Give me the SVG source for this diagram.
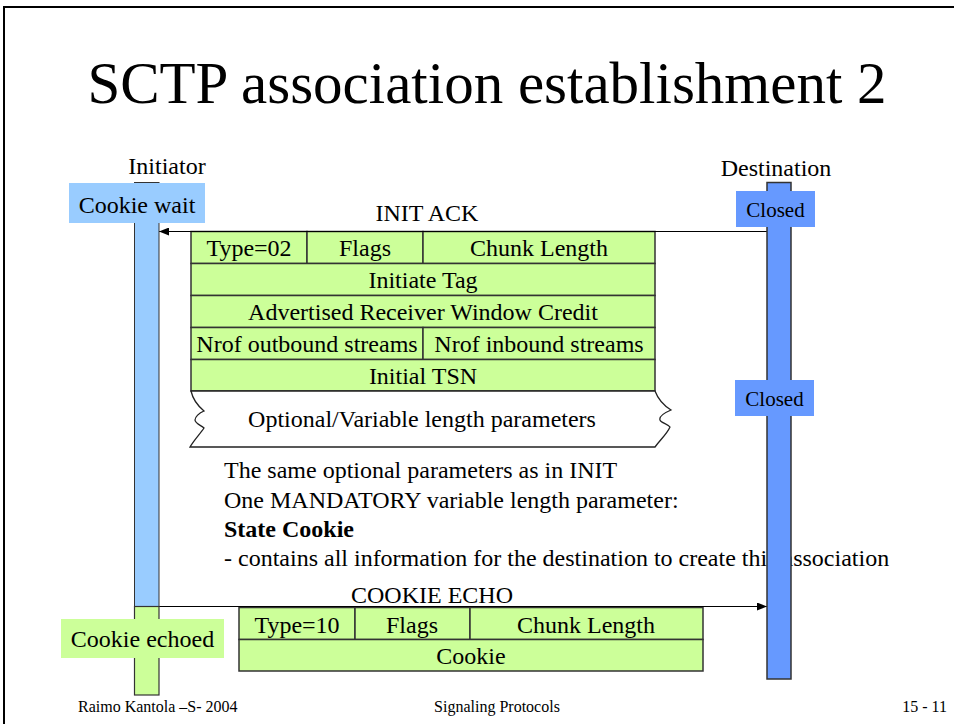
<svg xmlns="http://www.w3.org/2000/svg" width="954" height="724" viewBox="0 0 954 724">
<defs>
<style>
text{font-family:"Liberation Serif","Times New Roman",serif;fill:#000}
.t24{font-size:24px}
.c{text-anchor:middle}
.cell{fill:#CCFF99;stroke:#333;stroke-width:1.5}
.lbl{font-size:21px}
.foot{font-size:16px}
.conn{stroke:#000;stroke-width:1.2;fill:none}
</style>
<marker id="ah" markerWidth="10" markerHeight="8" refX="10" refY="4" orient="auto" markerUnits="userSpaceOnUse">
<path d="M0,0 L10,4 L0,8 Z" fill="#000"/>
</marker>
</defs>
<rect width="954" height="724" fill="#fff"/>
<rect x="4" y="7" width="970" height="740" fill="none" stroke="#000" stroke-width="2"/>
<text x="487" y="103" class="c" style="font-size:59px">SCTP association establishment 2</text>

<g id="initiator-label"><text x="167" y="174" class="t24 c">Initiator</text></g>
<g id="destination-label"><text x="776" y="176" class="t24 c">Destination</text></g>

<g id="init-ack">
<text x="427" y="221" class="t24 c">INIT ACK</text>
<rect x="191" y="231.5" width="116" height="32" class="cell"/>
<rect x="307" y="231.5" width="116" height="32" class="cell"/>
<rect x="423" y="231.5" width="232" height="32" class="cell"/>
<rect x="191" y="263.5" width="464" height="32" class="cell"/>
<rect x="191" y="295.5" width="464" height="32" class="cell"/>
<rect x="191" y="327.5" width="232" height="32" class="cell"/>
<rect x="423" y="327.5" width="232" height="32" class="cell"/>
<rect x="191" y="359.5" width="464" height="31.5" class="cell"/>
<text x="249" y="256" class="t24 c">Type=02</text>
<text x="365" y="256" class="t24 c">Flags</text>
<text x="539" y="256" class="t24 c">Chunk Length</text>
<text x="423" y="288" class="t24 c">Initiate Tag</text>
<text x="423" y="320" class="t24 c">Advertised Receiver Window Credit</text>
<text x="307" y="352" class="t24 c">Nrof outbound streams</text>
<text x="539" y="352" class="t24 c">Nrof inbound streams</text>
<text x="423" y="384" class="t24 c">Initial TSN</text>
<path d="M191,391 H655 C658,399 663,405 671,410 C664,413 659,417 660,420 C661,423 668,424 670,427 C667,434 660,440 655,447 H190 C194,440 200,434 204,428 C200,425 195,423 195,420 C195,417 199,413 204,411 C198,406 193,400 191,391 Z" fill="#fff" stroke="#222" stroke-width="1.3"/>
<text x="422" y="427" class="t24 c">Optional/Variable length parameters</text>
</g>

<g id="notes">
<text x="224" y="478" class="t24">The same optional parameters as in INIT</text>
<text x="224" y="508" class="t24">One MANDATORY variable length parameter:</text>
<text x="224" y="537" class="t24" font-weight="bold">State Cookie</text>
<text x="224" y="566" class="t24">- contains all information for the destination to create this association</text>
</g>

<g id="cookie-echo">
<text x="432" y="603" class="t24 c">COOKIE ECHO</text>
<rect x="239" y="607.5" width="116" height="32" class="cell"/>
<rect x="355" y="607.5" width="115" height="32" class="cell"/>
<rect x="470" y="607.5" width="233" height="32" class="cell"/>
<rect x="239" y="639.5" width="464" height="31.5" class="cell"/>
<text x="297" y="633" class="t24 c">Type=10</text>
<text x="412" y="633" class="t24 c">Flags</text>
<text x="586" y="633" class="t24 c">Chunk Length</text>
<text x="471" y="664" class="t24 c">Cookie</text>
</g>

<g id="connectors">
<line x1="767" y1="231.5" x2="159" y2="231.5" class="conn" marker-end="url(#ah)"/>
<line x1="159" y1="606.5" x2="767" y2="606.5" class="conn" marker-end="url(#ah)"/>
</g>

<g id="initiator-lifeline">
<rect x="134.5" y="182.5" width="24.5" height="424" fill="#99CCFF" stroke="#333" stroke-width="1"/>
<rect x="134.5" y="606.5" width="24.5" height="88.5" fill="#CCFF99" stroke="#333" stroke-width="1.2"/>
</g>
<g id="destination-lifeline">
<rect x="767" y="182.5" width="24" height="496.5" fill="#6699FF" stroke="#333" stroke-width="1.5"/>
</g>

<g id="cookie-wait">
<rect x="69" y="183" width="136" height="40" fill="#99CCFF"/>
<text x="137" y="213" class="t24 c">Cookie wait</text>
</g>
<g id="closed-1">
<rect x="736" y="191" width="79" height="36" fill="#6699FF"/>
<text x="775.5" y="217" class="lbl c">Closed</text>
</g>
<g id="closed-2">
<rect x="735" y="380" width="79" height="36" fill="#6699FF"/>
<text x="774.5" y="406" class="lbl c">Closed</text>
</g>
<g id="cookie-echoed">
<rect x="61" y="619" width="163" height="39" fill="#CCFF99"/>
<text x="142.5" y="647" class="t24 c">Cookie echoed</text>
</g>

<g id="footer">
<text x="78" y="712" class="foot">Raimo Kantola –S- 2004</text>
<text x="497" y="712" class="foot c">Signaling Protocols</text>
<text x="947" y="712" class="foot" text-anchor="end">15 - 11</text>
</g>
</svg>
